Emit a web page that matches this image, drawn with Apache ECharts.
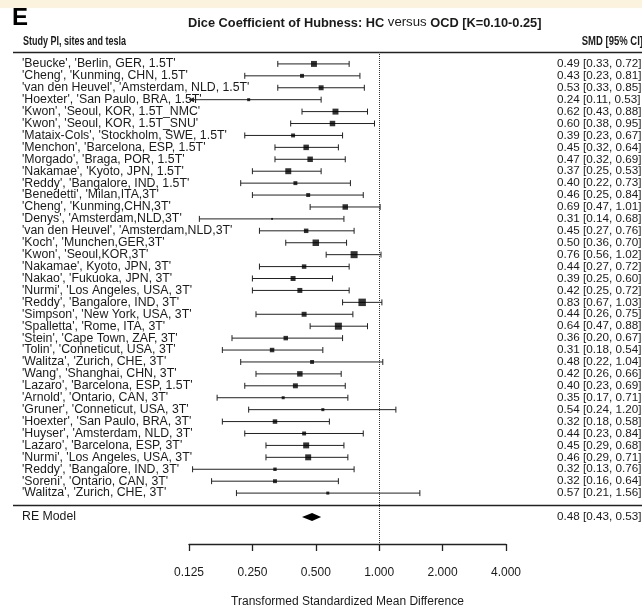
<!DOCTYPE html>
<html><head><meta charset="utf-8">
<script src="https://cdn.jsdelivr.net/npm/echarts@6/dist/echarts.min.js"></script>
<style>html,body{margin:0;padding:0;background:#fff}#c{width:642px;height:609px}</style>
</head><body><div id="c"></div>
<script>
// ---- data ----
const studies = [
  "'Beucke', 'Berlin, GER, 1.5T'",
  "'Cheng', 'Kunming, CHN, 1.5T'",
  "'van den Heuvel', 'Amsterdam, NLD, 1.5T'",
  "'Hoexter', 'San Paulo, BRA, 1.5T'",
  "'Kwon', 'Seoul, KOR, 1.5T_NMC'",
  "'Kwon', 'Seoul, KOR, 1.5T_SNU'",
  "'Mataix-Cols', 'Stockholm, SWE, 1.5T'",
  "'Menchon', 'Barcelona, ESP, 1.5T'",
  "'Morgado', 'Braga, POR, 1.5T'",
  "'Nakamae', 'Kyoto, JPN, 1.5T'",
  "'Reddy', 'Bangalore, IND, 1.5T'",
  "'Benedetti', 'Milan,ITA,3T'",
  "'Cheng', 'Kunming,CHN,3T'",
  "'Denys', 'Amsterdam,NLD,3T'",
  "'van den Heuvel', 'Amsterdam,NLD,3T'",
  "'Koch', 'Munchen,GER,3T'",
  "'Kwon', 'Seoul,KOR,3T'",
  "'Nakamae', Kyoto, JPN, 3T'",
  "'Nakao', 'Fukuoka, JPN, 3T'",
  "'Nurmi', 'Los Angeles, USA, 3T'",
  "'Reddy', 'Bangalore, IND, 3T'",
  "'Simpson', 'New York, USA, 3T'",
  "'Spalletta', 'Rome, ITA, 3T'",
  "'Stein', 'Cape Town, ZAF, 3T'",
  "'Tolin', 'Conneticut, USA, 3T'",
  "'Walitza', 'Zurich, CHE, 3T'",
  "'Wang', 'Shanghai, CHN, 3T'",
  "'Lazaro', 'Barcelona, ESP, 1.5T'",
  "'Arnold', 'Ontario, CAN, 3T'",
  "'Gruner', 'Conneticut, USA, 3T'",
  "'Hoexter', 'San Paulo, BRA, 3T'",
  "'Huyser', 'Amsterdam, NLD, 3T'",
  "'Lazaro', 'Barcelona, ESP, 3T'",
  "'Nurmi', 'Los Angeles, USA, 3T'",
  "'Reddy', 'Bangalore, IND, 3T'",
  "'Soreni', 'Ontario, CAN, 3T'",
  "'Walitza', 'Zurich, CHE, 3T'"
];
const smd    = [0.49,0.43,0.53,0.24,0.62,0.60,0.39,0.45,0.47,0.37,0.40,0.46,0.69,0.31,0.45,0.50,0.76,0.44,0.39,0.42,0.83,0.44,0.64,0.36,0.31,0.48,0.42,0.40,0.35,0.54,0.32,0.44,0.45,0.46,0.32,0.32,0.57];
const ciLow  = [0.33,0.23,0.33,0.11,0.43,0.38,0.23,0.32,0.32,0.25,0.22,0.25,0.47,0.14,0.27,0.36,0.56,0.27,0.25,0.25,0.67,0.26,0.47,0.20,0.18,0.22,0.26,0.23,0.17,0.24,0.18,0.23,0.29,0.29,0.13,0.16,0.21];
const ciHigh = [0.72,0.81,0.85,0.53,0.88,0.95,0.67,0.64,0.69,0.53,0.73,0.84,1.01,0.68,0.76,0.70,1.02,0.72,0.60,0.72,1.03,0.75,0.88,0.67,0.54,1.04,0.66,0.69,0.71,1.20,0.58,0.84,0.68,0.71,0.76,0.64,1.56];
const weights = [3.9,1.7,2.7,1.0,3.9,3.3,1.7,3.3,3.3,3.9,1.7,1.7,3.3,0.4,2.2,4.6,5.4,2.2,2.7,2.7,6.1,2.7,5.4,2.2,2.2,1.7,3.3,2.7,1.0,1.0,2.2,1.7,3.9,3.9,1.3,1.7,1.0];
const pooledLabel = 'RE Model';
const pooledEst = [0.48], pooledLow = [0.43], pooledHigh = [0.53];
const xTickValues = [0.125, 0.25, 0.5, 1, 2, 4];
const titleMain = 'Dice Coefficient of Hubness: HC ';
const titleMid = 'versus';
const titleEnd = ' OCD [K=0.10-0.25]';
const headerLeft = 'Study PI, sites and tesla';
const headerRight = 'SMD [95% CI]';
const xAxisTitle = 'Transformed Standardized Mean Difference';

// ---- layout helpers ----
const nStudies = studies.length;
const sepRow = nStudies + 1;     // separator line row
const pooledRow = nStudies + 2;  // RE model row
const yMax = 41.27;
const FONT = "'Liberation Sans', Arial, sans-serif";
const INK = '#1a1a1a';
const fmt = v => v.toFixed(2);
const rightText = smd.map((v,i) => `${fmt(v)} [${fmt(ciLow[i])}, ${fmt(ciHigh[i])}]`);
const pooledText = `${fmt(pooledEst[0])} [${fmt(pooledLow[0])}, ${fmt(pooledHigh[0])}]`;
function rowLabel(arr, pooled){
  return v => {
    const i = Math.round(v);
    if (Math.abs(v - i) > 1e-6) return '';
    if (i >= 1 && i <= nStudies) return arr[i-1];
    if (i === pooledRow) return pooled;
    return '';
  };
}
const gridTop = 52, gridBottom = 65;
const yBase = {type:'value', inverse:true, min:0, max:yMax, interval:1,
  axisLine:{show:false}, axisTick:{show:false}, splitLine:{show:false}};

const chart = echarts.init(document.getElementById('c'), null, {renderer:'canvas'});
const xMin = xTickValues[0], xMaxV = xTickValues[xTickValues.length-1];

const ciData = smd.map((v,i) => [ciLow[i], ciHigh[i], i+1]);
const ptData = smd.map((v,i) => [v, i+1, weights[i]]);

chart.setOption({
  backgroundColor:'#fff',
  animation:false,
  graphic:[
    {type:'rect', left:0, top:0, shape:{width:642, height:8}, style:{fill:'#fcf3de'}, silent:true},
    {type:'text', x:23, y:42, scaleX:0.72, silent:true,
      style:{text:headerLeft, font:`bold 12.5px ${FONT}`, fill:INK, verticalAlign:'middle', align:'left'}},
    {type:'text', x:643, y:42, scaleX:0.76, silent:true,
      style:{text:headerRight, font:`bold 12.5px ${FONT}`, fill:INK, verticalAlign:'middle', align:'right'}}
  ],
  title:[
    {text:'E', left:12, top:6, padding:0, textStyle:{fontFamily:FONT, fontSize:24, fontWeight:'bold', color:'#000'}},
    {text:`{b|${titleMain}}{n|${titleMid}}{b|${titleEnd}}`, left:188, top:16, padding:0,
      textStyle:{rich:{
        b:{fontFamily:FONT, fontSize:12.8, fontWeight:'bold', color:INK},
        n:{fontFamily:FONT, fontSize:13.2, fontWeight:'normal', color:INK, padding:[0,0,2,0]}
      }}}
  ],
  grid:[
    {left:13, right:0, top:gridTop, bottom:gridBottom, containLabel:false, outerBoundsMode:'none'},
    {left:189, right:136, top:gridTop, bottom:gridBottom, containLabel:false, outerBoundsMode:'none'},
    {left:557, right:0, top:gridTop, bottom:gridBottom, containLabel:false, outerBoundsMode:'none'}
  ],
  xAxis:[
    {gridIndex:0, type:'value', min:0, max:1, show:false},
    {gridIndex:1, type:'log', logBase:2, min:xMin, max:xMaxV, splitNumber:5, position:'bottom',
      axisLine:{show:true, onZero:false, lineStyle:{color:'#222', width:1.3}},
      axisTick:{show:true, length:7, lineStyle:{color:'#222', width:1.3}},
      splitLine:{show:false},
      axisLabel:{margin:23, fontFamily:FONT, fontSize:12, color:INK,
        formatter: v => Number(v).toFixed(3)},
      name:xAxisTitle, nameLocation:'middle', nameGap:52,
      nameTextStyle:{fontFamily:FONT, fontSize:12, color:INK}},
    {gridIndex:2, type:'value', min:0, max:1, show:false}
  ],
  yAxis:[
    Object.assign({}, yBase, {gridIndex:0, position:'left',
      axisLabel:{inside:true, margin:9, fontFamily:FONT, fontSize:12.3, color:INK, formatter:rowLabel(studies, pooledLabel)}}),
    Object.assign({}, yBase, {gridIndex:1, show:false}),
    Object.assign({}, yBase, {gridIndex:2, position:'left',
      axisLabel:{inside:true, margin:0, fontFamily:FONT, fontSize:11.7, color:INK, formatter:rowLabel(rightText, pooledText)}})
  ],
  series:[
    {type:'line', xAxisIndex:0, yAxisIndex:0, data:[[0,0]], symbol:'none', silent:true,
      lineStyle:{opacity:0},
      markLine:{symbol:'none', silent:true, label:{show:false},
        lineStyle:{color:'#222', width:1.3, type:'solid'},
        data:[{yAxis:0},{yAxis:sepRow}]}},
    {type:'custom', xAxisIndex:1, yAxisIndex:1, data:ciData, encode:{x:[0,1], y:2}, silent:true,
      renderItem(params, api){
        const lo = api.value(0), hi = api.value(1), row = api.value(2);
        const clipped = lo < xMin;
        const a = api.coord([clipped ? xMin : lo, row]);
        const b = api.coord([hi, row]);
        const st = {stroke:'#222', lineWidth:1};
        const ch = [
          {type:'line', shape:{x1:a[0], y1:a[1], x2:b[0], y2:b[1]}, style:st},
          {type:'line', shape:{x1:b[0], y1:b[1]-3, x2:b[0], y2:b[1]+3}, style:st}
        ];
        if (clipped) {
          ch.push({type:'polygon', shape:{points:[[a[0],a[1]],[a[0]+5,a[1]-2.5],[a[0]+5,a[1]+2.5]]}, style:{fill:'#222'}});
        } else {
          ch.push({type:'line', shape:{x1:a[0], y1:a[1]-3, x2:a[0], y2:a[1]+3}, style:st});
        }
        return {type:'group', children:ch};
      }},
    {type:'scatter', xAxisIndex:1, yAxisIndex:1, data:ptData, symbol:'rect', silent:true,
      symbolSize: d => 3.02*Math.sqrt(d[2]),
      itemStyle:{color:'#000'},
      markLine:{symbol:'none', silent:true, label:{show:false},
        lineStyle:{color:'#333', width:1, type:'dotted'},
        data:[{xAxis:1}]}},
    {type:'custom', xAxisIndex:1, yAxisIndex:1,
      data: pooledEst.map((v,i) => [pooledLow[i], pooledHigh[i], v, pooledRow]),
      encode:{x:[0,1,2], y:3}, silent:true,
      renderItem(params, api){
        const l = api.coord([api.value(0), api.value(3)]);
        const h = api.coord([api.value(1), api.value(3)]);
        const m = api.coord([api.value(2), api.value(3)]);
        return {type:'polygon', shape:{points:[[l[0],l[1]],[m[0],m[1]-4],[h[0],h[1]],[m[0],m[1]+4]]}, style:{fill:'#000'}};
      }}
  ]
});
</script></body></html>
